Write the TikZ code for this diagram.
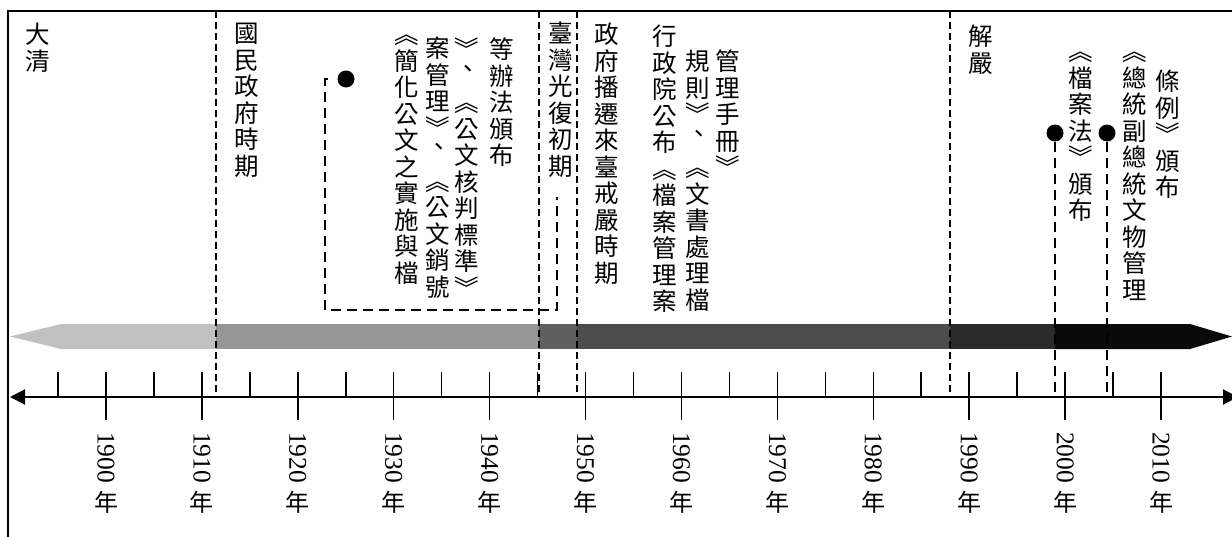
\documentclass[tikz,border=0pt]{standalone}
\usepackage{fontspec}
\setmainfont{Liberation Serif}
\newfontfamily\cjk{Noto Sans CJK TC}
\usetikzlibrary{arrows.meta}
\definecolor{gA}{HTML}{C0C0C0}
\definecolor{gB}{HTML}{969696}
\definecolor{gC}{HTML}{5F5F5F}
\definecolor{gD}{HTML}{4D4D4D}
\definecolor{gE}{HTML}{2B2B2B}
\definecolor{gF}{HTML}{0A0A0A}
\newcommand{\vcomma}{\hspace*{-13pt}︑}
\begin{document}
\begin{tikzpicture}[x=1pt,y=-1pt,
  vt/.style={anchor=north, align=center, inner sep=0pt, font=\cjk\fontsize{24.5}{26.5}\selectfont},
  period/.style={dash pattern=on 7pt off 4pt, line width=1.3pt},
  conn/.style={dash pattern=on 10pt off 6pt, line width=2pt},
  dotnode/.style={circle, fill=black, minimum size=17pt, inner sep=0pt},
  tickline/.style={line width=1.5pt},
  yrnum/.style={rotate=-90, anchor=west, inner sep=0pt, font=\fontsize{25.5}{25.5}\selectfont},
  yrcjk/.style={anchor=north, inner sep=0pt, font=\cjk\fontsize{24}{24}\selectfont},
  axisline/.style={line width=2pt, {Triangle[length=15pt,width=15pt]}-{Triangle[length=15pt,width=15pt]}}
]
\useasboundingbox (0,0) rectangle (1232,536);
% frame
\draw[line width=1.8pt] (1240,11) -- (8,11) -- (8,545);
% band
\fill[gA] (10,336.5) -- (61,324) -- (216.5,324) -- (216.5,349) -- (61,349) -- cycle;
\fill[gB] (216,324) rectangle (539.5,349);
\fill[gC] (539,324) rectangle (577.5,349);
\fill[gD] (577,324) rectangle (950.5,349);
\fill[gE] (950,324) rectangle (1055.5,349);
\fill[gF] (1055,324) -- (1190,324) -- (1232,336.5) -- (1190,349) -- (1055,349) -- cycle;
% axis
\coordinate (axl) at (10,397);
\coordinate (axr) at (1238,397);
\draw[axisline] (axl) -- (axr);
\foreach \yr in {1895,1900,...,2010}{
  \pgfmathsetmacro\xx{106+(\yr-1900)*9.591}
  \draw[tickline] (\xx,372) -- (\xx,397);
}
\foreach \yr in {1900,1910,...,2010}{
  \pgfmathsetmacro\xx{106+(\yr-1900)*9.591}
  \draw[tickline] (\xx,397) -- (\xx,420);
  \node[yrnum] (n\yr) at (\xx,432) {\yr};
  \node[yrcjk] (c\yr) at (\xx,491) {年};
}
% period lines
\draw[period] (216,11) -- (216,397);
\draw[period] (539,11) -- (539,397);
\draw[period] (577,11) -- (577,397);
\draw[period] (950,11) -- (950,397);
% texts
\node[vt] (tqing) at (38,23) {大\\清};
\node[vt] (tgm) at (247,23) {國\\民\\政\\府\\時\\期};
\node[vt] (ta1) at (407,35) {︽\\簡\\化\\公\\文\\之\\實\\施\\與\\檔};
\node[vt] (ta2) at (438,37) {案\\管\\理\\︾\\\vcomma\\︽\\公\\文\\銷\\號};
\node[vt] (ta3) at (467,38) {︾\\\vcomma\\︽\\公\\文\\核\\判\\標\\準\\︾};
\node[vt] (ta4) at (502,38) {等\\辦\\法\\頒\\布};
\node[vt] (ttw) at (561,22) {臺\\灣\\光\\復\\初\\期};
\node[vt] (tban) at (607,23) {政\\府\\播\\遷\\來\\臺\\戒\\嚴\\時\\期};
\node[vt] (tb1) at (665,25) {行\\政\\院\\公\\布\\︽\\檔\\案\\管\\理\\案};
\node[vt] (tb2) at (698,50) {規\\則\\︾\\\vcomma\\︽\\文\\書\\處\\理\\檔};
\node[vt] (tb3) at (728,50) {管\\理\\手\\冊\\︾};
\node[vt] (tjy) at (981,25) {解\\嚴};
\node[vt] (te1) at (1081,52) {︽\\檔\\案\\法\\︾\\頒\\布};
\node[vt] (te2) at (1135,52) {︽\\總\\統\\副\\總\\統\\文\\物\\管\\理};
\node[vt] (te3) at (1168,70) {條\\例\\︾\\頒\\布};
% dots and connectors
\node[dotnode] (d1) at (346,79) {};
\node[dotnode] (d2) at (1055,133) {};
\node[dotnode] (d3) at (1107,133) {};
\coordinate (e1) at (557,197);
\draw[conn, shorten <=9pt] (d1.west) -- (325,79) -- (325,310) -- (557,310) -- (e1);
\draw[conn] (d2.south) -- (d2.south |- axl);
\draw[conn] (d3.south) -- (d3.south |- axl);
\end{tikzpicture}
\end{document}
